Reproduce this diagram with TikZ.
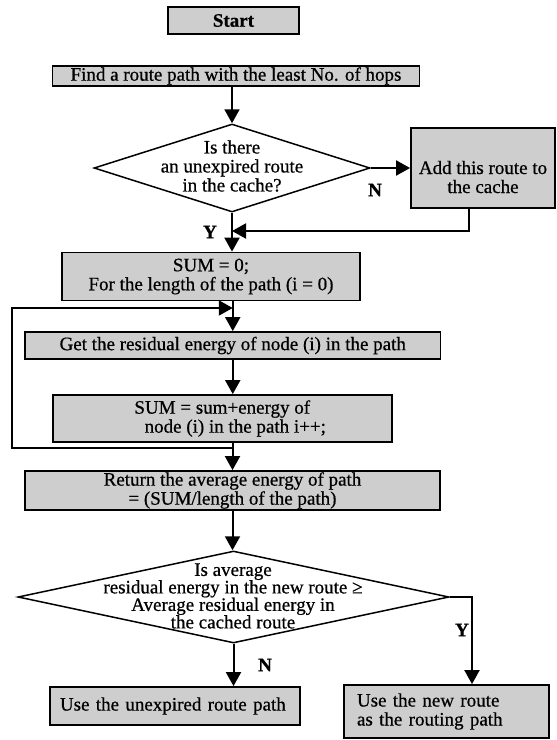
\documentclass[tikz,border=0pt]{standalone}
\usepackage{fontspec}
\setmainfont{Liberation Serif}[FakeBold=0.6]
\usetikzlibrary{arrows.meta,shapes.geometric}
\definecolor{boxgray}{RGB}{206,206,206}
\begin{document}
\begin{tikzpicture}[x=1pt,y=-1pt,
  font=\fontsize{19}{19}\selectfont,
  box/.style={draw, line width=1.8pt, fill=boxgray, inner xsep=3pt, inner ysep=1pt, align=center},
  dec/.style={diamond, draw, line width=1.5pt, inner sep=0pt, fill=white},
  lbl/.style={font=\fontsize{19}{19}\selectfont\bfseries},
  arr/.style={line width=2pt, -{Triangle[length=14pt,width=15pt]}}]
\useasboundingbox[fill=white] (0,0) rectangle (557,740);

\node[box, minimum width=131pt, minimum height=27pt, font=\fontsize{19}{19}\selectfont\bfseries] (start) at (233.5,20.5) {Start};
\node[box, minimum width=367pt, minimum height=20pt] (find) at (236,76) {Find a route path with the least No. of hops};
\node[dec, minimum width=276pt, minimum height=88pt] (d1) at (232,168) {};
\node[align=center] (d1t) at (232,166) {Is there\\an unexpired route\\in the cache?};
\node[box, minimum width=144pt, minimum height=80pt] (add) at (483,168) {};
\node[align=center] (addt) at (483,177) {Add this route to\\the cache};
\node[box, minimum width=297.5pt, minimum height=48pt] (sum0) at (211,276.5) {SUM = 0;\\For the length of the path (i = 0)};
\node[box, minimum width=415.5pt, minimum height=27pt] (get) at (232.75,345.5) {Get the residual energy of node (i) in the path};
\node[box, minimum width=339.4pt, minimum height=47pt] (sumsum) at (222.3,418.5) {SUM = sum+energy of\\\hspace*{26pt}node (i) in the path i++;};
\node[box, minimum width=415pt, minimum height=39pt] (ret) at (232.5,490.5) {Return the average energy of path\\= (SUM/length of the path)};
\node[dec, minimum width=431pt, minimum height=92pt] (d2) at (233.5,597) {};
\node[align=center, font=\fontsize{19}{17.5}\selectfont] (d2t) at (233,596) {Is average\\residual energy in the new route ≥\\Average residual energy in\\the cached route};
\node[box, minimum width=250pt, minimum height=38pt, text width=230pt, inner xsep=10pt, align=left] (use) at (175,706) {Use the unexpired route path};
\node[box, minimum width=205pt, minimum height=53pt, text width=179pt, inner xsep=13pt, align=left] (new) at (446.5,711.5) {Use the new route\\as the routing path};

\node[lbl] (n1) at (375,190) {N};
\node[lbl] (y1) at (210,232) {Y};
\node[lbl] (y2) at (462,630) {Y};
\node[lbl] (n2) at (265,665) {N};

\draw[arr] (find.south -| d1.north) -- (d1.north);
\draw[arr] (d1.east) -- (add.west);
\coordinate (addturn) at (469,231);
\draw[arr] (add.south -| addturn) -- (addturn) -- (addturn -| d1.south);
\draw[arr] (d1.south) -- (d1.south |- sum0.north);
\draw[arr] (get.north |- sum0.south) -- (get.north);
\coordinate (loopbot) at (232.5,448);
\coordinate (loopleft) at (12,448);
\coordinate (looptop) at (12,308);
\coordinate (loopend) at (232.75,308);
\draw[arr] (loopbot) -- (loopleft) -- (looptop) -- (loopend);
\draw[arr] (get.south) -- (get.south |- sumsum.north);
\draw[arr] (ret.north |- sumsum.south) -- (ret.north);
\draw[arr] (ret.south) -- (ret.south |- d2.north);
\draw[arr] (d2.south) -- (d2.south |- use.north);
\coordinate (yturn) at (472,597);
\draw[arr] (d2.east) -- (yturn) -- (yturn |- new.north);
\end{tikzpicture}
\end{document}
